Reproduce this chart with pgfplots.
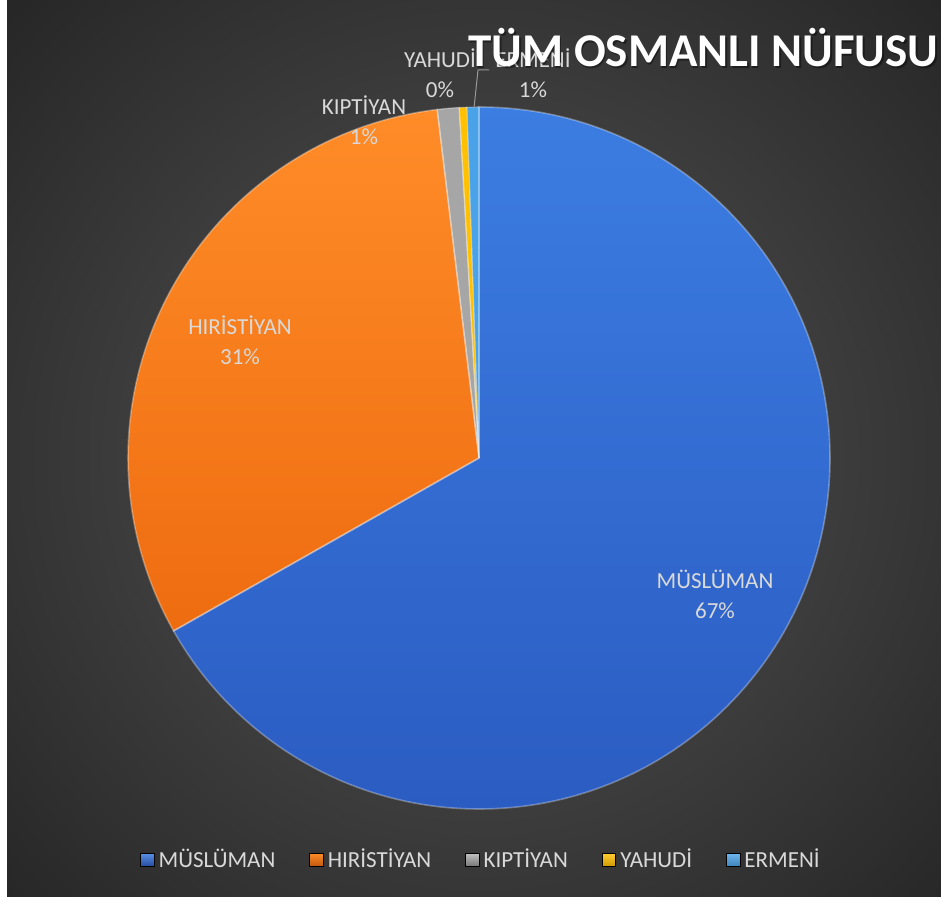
\documentclass[border=0pt]{standalone}
\usepackage{pgfplots}
\pgfplotsset{compat=1.18}
\usepackage{pgfplotstable}
\usepackage{fontspec}
\setmainfont{Carlito}

\definecolor{bgIn}{HTML}{565656}
\definecolor{bgOut}{HTML}{262626}
\definecolor{mT}{HTML}{3C7DE2}
\definecolor{mB}{HTML}{2B5CC2}
\definecolor{hT}{HTML}{FF8C28}
\definecolor{hB}{HTML}{EE6C10}
\definecolor{kC}{HTML}{A6A6A6}
\definecolor{yC}{HTML}{FFC000}
\definecolor{eC}{HTML}{4AA3E8}
\definecolor{labcol}{HTML}{D9D9D9}

% share of each group (%)
\pgfplotstableread{
group value
Musluman 66.8
Hiristiyan 31.3
Kiptiyan 1.0
Yahudi 0.35
Ermeni 0.55
}\piedata

% slice: start angle, end angle, style
\newcommand\slice[3]{\path[#3] (axis cs:479,439) -- ++(#1:175.5pt)
  arc[start angle=#1, end angle=#2, radius=175.5pt] -- cycle;}

\begin{document}
\begin{tikzpicture}
\pgfplotstablegetelem{0}{value}\of\piedata \let\vA\pgfplotsretval
\pgfplotstablegetelem{1}{value}\of\piedata \let\vB\pgfplotsretval
\pgfplotstablegetelem{2}{value}\of\piedata \let\vC\pgfplotsretval
\pgfplotstablegetelem{3}{value}\of\piedata \let\vD\pgfplotsretval
\pgfplotstablegetelem{4}{value}\of\piedata \let\vE\pgfplotsretval
\pgfmathsetmacro\aO{90}
\pgfmathsetmacro\aA{\aO-3.6*\vA}
\pgfmathsetmacro\aB{\aA-3.6*\vB}
\pgfmathsetmacro\aC{\aB-3.6*\vC}
\pgfmathsetmacro\aD{\aC-3.6*\vD}
\pgfmathsetmacro\aE{\aD-3.6*\vE}
\begin{axis}[
    x=0.5pt, y=0.5pt,
    xmin=0, xmax=941, ymin=0, ymax=897,
    hide axis,
    legend columns=5,
    legend cell align=left,
    legend style={at={(axis cs:482,37)}, anchor=center, draw=none, fill=none,
      text=labcol, font=\fontsize{11.5}{14}\selectfont,
      /tikz/every even column/.append style={column sep=15pt}},
    legend image code/.code={\path[#1] (0pt,-3.4pt) rectangle (6.8pt,3.4pt);},
]
% background
\fill[white] (axis cs:0,0) rectangle (axis cs:941,897);
\begin{scope}
\clip (axis cs:7,0) rectangle (axis cs:941,897);
\shade[inner color=bgIn, outer color=bgOut] (axis cs:480,440) circle[radius=330pt];
\end{scope}

% slices
\slice{\aO}{\aA}{top color=mT, bottom color=mB}
\slice{\aA}{\aB}{top color=hT, bottom color=hB}
\slice{\aB}{\aC}{fill=kC}
\slice{\aC}{\aD}{fill=yC}
\slice{\aD}{\aE}{fill=eC}
\slice{\aO}{\aA}{draw=white, draw opacity=0.3, line width=0.8pt}
\slice{\aA}{\aB}{draw=white, draw opacity=0.3, line width=0.8pt}
\slice{\aB}{\aC}{draw=white, draw opacity=0.4, line width=0.6pt}
\slice{\aC}{\aD}{draw=white, draw opacity=0.3, line width=0.5pt}
\slice{\aD}{\aE}{draw=white, draw opacity=0.3, line width=0.5pt}

% leader line for ERMENİ
\draw[gray!80, line width=0.5pt] (axis cs:474,789) -- (axis cs:478,827) -- (axis cs:489,827);

% data labels
\tikzset{lab/.style={text=labcol, align=center, inner sep=0pt,
  font=\fontsize{11.5}{15}\selectfont}}
\node[lab] at (axis cs:715,303) {MÜSLÜMAN\\67\%};
\node[lab] at (axis cs:240,557) {HIRİSTİYAN\\31\%};
\node[lab] at (axis cs:364,777) {KIPTİYAN\\1\%};
\node[lab] at (axis cs:440,824) {YAHUDİ\\0\%};
\node[lab] at (axis cs:533,824) {ERMENİ\\1\%};

% title
\node[anchor=base west, inner sep=0pt, text=black, opacity=0.4,
  font=\fontsize{23.5}{28}\bfseries\selectfont] at (axis cs:469.5,828.5) {TÜM OSMANLI NÜFUSU};
\node[anchor=base west, inner sep=0pt, text=white,
  font=\fontsize{23.5}{28}\bfseries\selectfont] at (axis cs:468,830) {TÜM OSMANLI NÜFUSU};

\addlegendimage{top color=mT!85!white, bottom color=mB!80!black}
\addlegendimage{top color=hT, bottom color=hB!80!black}
\addlegendimage{top color=kC!70!white, bottom color=kC!70!black}
\addlegendimage{top color=yC!80!white, bottom color=yC!80!black}
\addlegendimage{top color=eC!80!white, bottom color=eC!80!black}
\legend{MÜSLÜMAN, HIRİSTİYAN, KIPTİYAN, YAHUDİ, ERMENİ}
\end{axis}
\pgfresetboundingbox
\path (current axis.south west) rectangle (current axis.north east);
\end{tikzpicture}
\end{document}
